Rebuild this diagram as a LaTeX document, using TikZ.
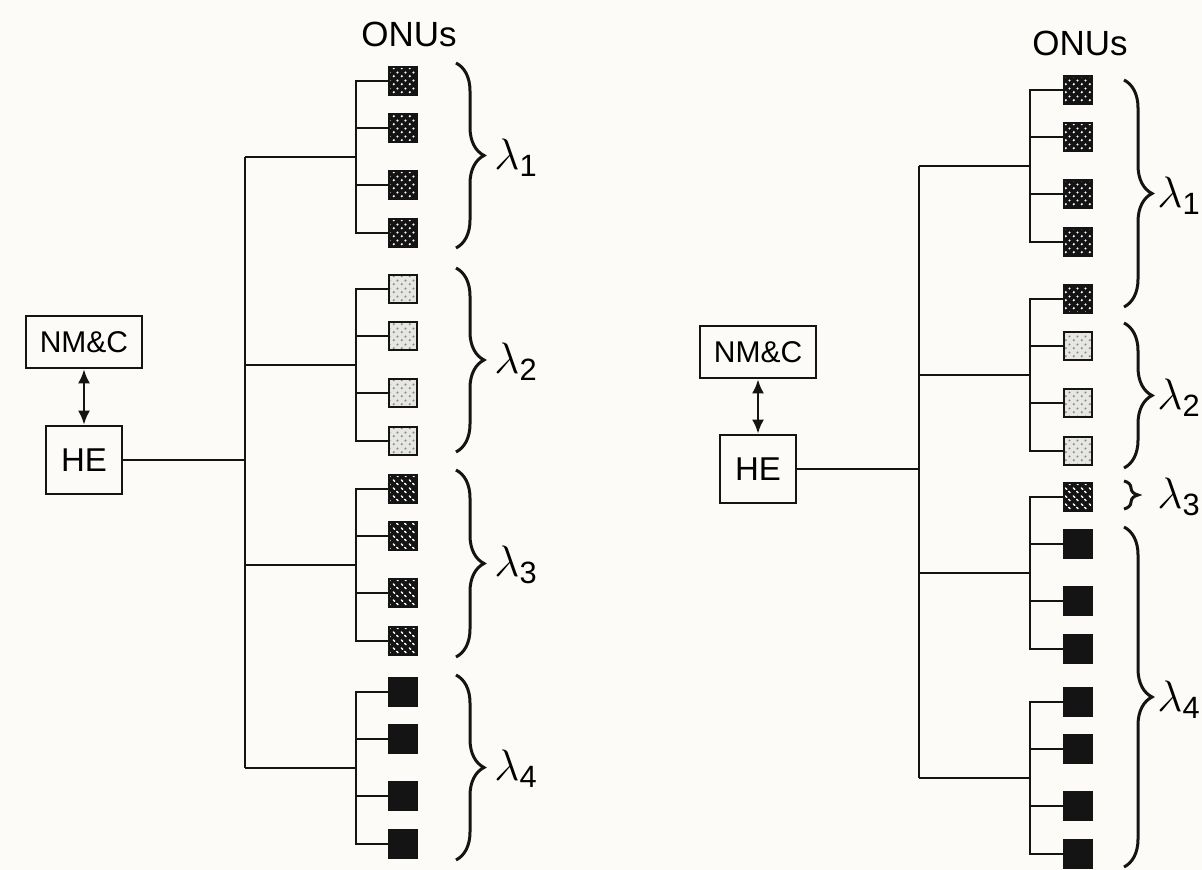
\documentclass[tikz,border=0pt]{standalone}
\usepackage{fix-cm}
\usepackage{amsmath}
\usepackage{fontspec}
\setsansfont{Liberation Sans}
\usepackage{tikz}
\usetikzlibrary{arrows.meta,positioning,decorations.pathreplacing,patterns.meta}
\definecolor{ink}{HTML}{141414}
\definecolor{paper}{HTML}{FCFBF7}
\definecolor{pale}{HTML}{E6E6E3}
\definecolor{speck}{HTML}{8C8C8A}
\tikzdeclarepattern{name=speckgrid,type=uncolored,
  bounding box={(0pt,0pt) and (4pt,4pt)},tile size={(4pt,4pt)},
  code={\fill (1pt,1pt) circle (0.65pt); \fill (3pt,3pt) circle (0.65pt);}}
\tikzdeclarepattern{name=speckdash,type=uncolored,
  bounding box={(0pt,0pt) and (4pt,4pt)},tile size={(4pt,4pt)},
  code={\draw[line width=0.8pt,line cap=round] (0.7pt,3.3pt) -- (1.5pt,2.5pt);
        \draw[line width=0.8pt,line cap=round] (2.5pt,1.5pt) -- (3.3pt,0.7pt);}}

\begin{document}
\begin{tikzpicture}[x=0.5pt,y=-0.5pt,
  box/.style={draw=ink,line width=1.3pt,inner sep=0pt,font=\sffamily\fontsize{15}{18}\selectfont},
  hebox/.style={box,font=\sffamily\fontsize{16.5}{19}\selectfont},
  onu/.style={draw=ink,line width=1.2pt,minimum size=14pt,inner sep=0pt},
  onuA/.style={onu,preaction={fill=ink},pattern=speckgrid,pattern color=white},
  onuB/.style={onu,preaction={fill=pale},pattern=speckgrid,pattern color=speck},
  onuC/.style={onu,preaction={fill=ink},pattern=speckdash,pattern color=white},
  onuD/.style={onu,fill=ink},
  wire/.style={draw=ink,line width=1.3pt},
  arr/.style={{Latex[length=7pt,width=6pt]}-{Latex[length=7pt,width=6pt]},draw=ink,line width=1.3pt},
  brc/.style={draw=ink,line width=1.5pt,decorate,decoration={brace,amplitude=14pt}},
  lam/.style={anchor=west,inner sep=0pt,font=\fontsize{22}{26}\selectfont},
  hdr/.style={font=\sffamily\fontsize{17.5}{20}\selectfont}]
  \path[use as bounding box,fill=paper] (0,0) rectangle (1202,870);
  % left: one wavelength per splitter
  \node[box,minimum width=58pt,minimum height=26pt] (nmcL) at (84,342) {NM\&C};
  \node[hebox,minimum width=38pt,minimum height=34pt] (heL) at (84,460) {HE};
  \draw[arr] (nmcL) -- (heL);
  \node[hdr] (onusL) at (409,34) {ONUs};
  \coordinate (trunkL) at (245,460);
  \draw[wire] (heL) -- (trunkL);
  \foreach \g/\y/\sa/\sb in {1/81/onuA/onuA,2/289/onuB/onuB,3/489/onuC/onuC,4/692/onuD/onuD}{
    \node[\sa] (onuL\g1) at (403,\y) {};
    \foreach \k/\d in {2/47,3/104,4/152}
      \node[\sb] (onuL\g\k) at (403,{\y+\d}) {};
    \coordinate (splitL\g) at (356,{\y+76});
    \draw[wire] (onuL\g1) -| (splitL\g) |- (onuL\g4);
    \draw[wire] (onuL\g2) -- (onuL\g2 -| splitL\g);
    \draw[wire] (onuL\g3) -- (onuL\g3 -| splitL\g);
    \draw[wire] (splitL\g -| trunkL) -- (splitL\g);
  }
  \draw[wire] (splitL1 -| trunkL) -- (splitL4 -| trunkL);
  \draw[brc] (456,63) -- (456,248);
  \draw[brc] (456,268) -- (456,452);
  \draw[brc] (456,470) -- (456,657);
  \draw[brc] (456,675) -- (456,860);
  \node[lam] (lamL1) at (494,158) {$\lambda_{\textsf{1}}$};
  \node[lam] (lamL2) at (494,362) {$\lambda_{\textsf{2}}$};
  \node[lam] (lamL3) at (494,565) {$\lambda_{\textsf{3}}$};
  \node[lam] (lamL4) at (494,769) {$\lambda_{\textsf{4}}$};
  % right: wavelengths regrouped
  \node[box,minimum width=58pt,minimum height=26pt] (nmcR) at (758,352) {NM\&C};
  \node[hebox,minimum width=38pt,minimum height=34pt] (heR) at (758,469) {HE};
  \draw[arr] (nmcR) -- (heR);
  \node[hdr] (onusR) at (1080,43) {ONUs};
  \coordinate (trunkR) at (919,469);
  \draw[wire] (heR) -- (trunkR);
  \foreach \g/\y/\sa/\sb in {1/90/onuA/onuA,2/299/onuA/onuB,3/497/onuC/onuD,4/702/onuD/onuD}{
    \node[\sa] (onuR\g1) at (1078,\y) {};
    \foreach \k/\d in {2/47,3/104,4/152}
      \node[\sb] (onuR\g\k) at (1078,{\y+\d}) {};
    \coordinate (splitR\g) at (1030,{\y+76});
    \draw[wire] (onuR\g1) -| (splitR\g) |- (onuR\g4);
    \draw[wire] (onuR\g2) -- (onuR\g2 -| splitR\g);
    \draw[wire] (onuR\g3) -- (onuR\g3 -| splitR\g);
    \draw[wire] (splitR\g -| trunkR) -- (splitR\g);
  }
  \draw[wire] (splitR1 -| trunkR) -- (splitR4 -| trunkR);
  \draw[brc] (1124,80) -- (1124,307);
  \draw[brc] (1124,323) -- (1124,468);
  \draw[brc,decoration={brace,amplitude=7pt,aspect=0.5}] (1124,481) -- (1124,509);
  \draw[brc] (1124,527) -- (1124,867);
  \node[lam] (lamR1) at (1157,196) {$\lambda_{\textsf{1}}$};
  \node[lam] (lamR2) at (1157,398) {$\lambda_{\textsf{2}}$};
  \node[lam] (lamR3) at (1157,497) {$\lambda_{\textsf{3}}$};
  \node[lam] (lamR4) at (1157,700) {$\lambda_{\textsf{4}}$};
\end{tikzpicture}
\end{document}
